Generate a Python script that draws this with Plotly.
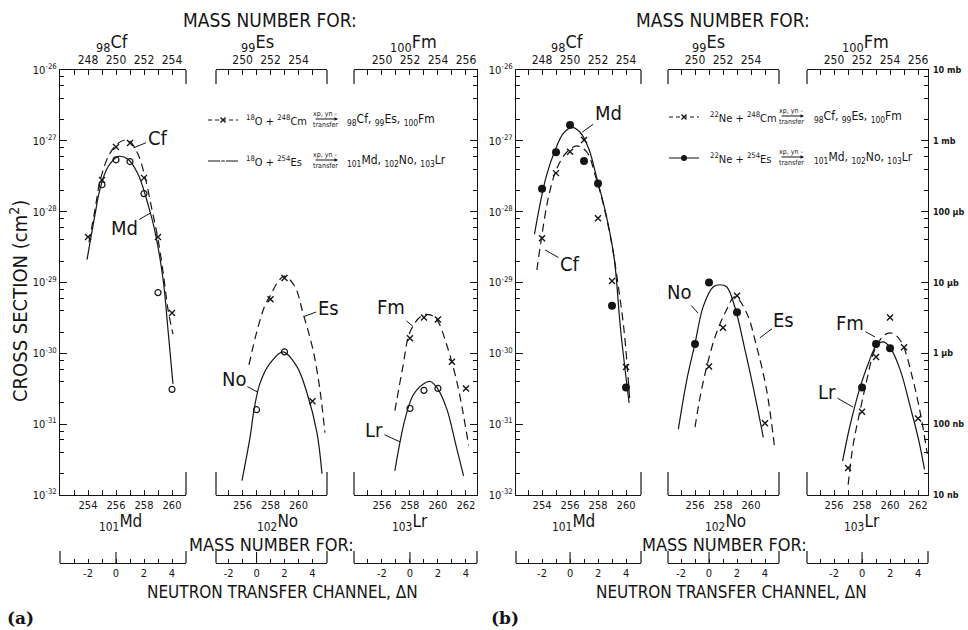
import math
import plotly.graph_objects as go

W, H = 968, 630
SANS = "DejaVu Sans Condensed, Liberation Sans Narrow, DejaVu Sans, sans-serif"
SERIF = "DejaVu Serif, Liberation Serif, serif"
INK = "#151515"

# ---------------- data: neutron transfer channel dN, cross section (cm^2) ----------------
# Panel (a): 18O + 248Cm -> Cf, Es, Fm (x) ; 18O + 254Es -> Md, No, Lr (o)
a_cf_dn = [-2, -1, 0, 1, 2, 3, 4]
a_cf_sig = [4.4e-29, 2.8e-28, 8.2e-28, 9.3e-28, 3.0e-28, 4.4e-29, 3.7e-30]
a_cf_fit_dn = [-1.93, -1.5, -1.14, -0.57, 0.0, 0.57, 1.0, 1.57, 2.07, 2.57, 3.0, 3.43, 3.71, 4.07]
a_cf_fit_sig = [3.7e-29, 1.07e-28, 2.7e-28, 5.9e-28, 8.7e-28, 1.02e-27, 9.8e-28, 6.5e-28,
                3.1e-28, 1.07e-28, 4.1e-29, 1.12e-29, 4.2e-30, 1.86e-30]
a_md_dn = [-1, 0, 1, 2, 3, 4]
a_md_sig = [2.4e-28, 5.4e-28, 5.1e-28, 1.8e-28, 7.2e-30, 3.1e-31]
a_md_fit_dn = [-2.07, -1.5, -1.14, -0.57, 0.14, 0.86, 1.57, 2.29, 2.79, 3.36, 3.71, 4.07]
a_md_fit_sig = [2.1e-29, 9.1e-29, 2.1e-28, 4.3e-28, 6.0e-28, 5.5e-28, 3.4e-28, 1.26e-28,
                5.2e-29, 1.12e-29, 2.2e-30, 3.7e-31]
a_es_dn = [1, 2, 4]
a_es_sig = [5.8e-30, 1.16e-29, 2.1e-31]
a_es_fit_dn = [-0.54, 0.04, 0.61, 1.0, 1.5, 2.0, 2.75, 3.32, 4.04, 4.54, 4.89]
a_es_fit_sig = [6.9e-31, 2.1e-30, 4.8e-30, 6.6e-30, 1.0e-29, 1.23e-29, 8.7e-30, 3.7e-30,
                1.12e-30, 3.0e-31, 7.6e-32]
a_no_dn = [0, 2]
a_no_sig = [1.6e-31, 1.05e-30]
a_no_fit_dn = [-1.04, -0.46, -0.18, 0.25, 0.96, 1.89, 2.89, 3.61, 4.32, 4.68]
a_no_fit_sig = [1.6e-32, 6.6e-32, 1.6e-31, 3.8e-31, 7.2e-31, 1.05e-30, 6.5e-31, 2.75e-31,
                7.6e-32, 2.0e-32]
a_fm_dn = [0, 1, 2, 3, 4]
a_fm_sig = [1.63e-30, 3.2e-30, 3.0e-30, 7.6e-31, 3.2e-31]
a_fm_fit_dn = [-1.08, -0.5, 0.0, 0.84, 1.44, 1.92, 2.64, 3.36, 3.83, 4.19]
a_fm_fit_sig = [1.55e-31, 6.6e-31, 2.0e-30, 3.4e-30, 3.5e-30, 3.0e-30, 1.29e-30, 3.9e-31,
                1.32e-31, 5.0e-32]
a_lr_dn = [0, 1, 2]
a_lr_sig = [1.67e-31, 3.0e-31, 3.2e-31]
a_lr_fit_dn = [-1.08, -0.72, -0.36, 0.24, 0.96, 1.44, 1.92, 2.64, 3.24, 3.83]
a_lr_fit_sig = [2.2e-32, 5.5e-32, 1.17e-31, 2.6e-31, 3.7e-31, 4.0e-31, 3.3e-31, 1.62e-31,
                5.5e-32, 1.86e-32]

# Panel (b): 22Ne + 248Cm -> Cf, Es, Fm (x) ; 22Ne + 254Es -> Md, No, Lr (filled)
b_cf_dn = [-2, -1, 0, 1, 2, 3, 4]
b_cf_sig = [4.2e-29, 3.5e-28, 7.0e-28, 1.03e-27, 8.1e-29, 1.05e-29, 6.4e-31]
b_cf_fit_dn = [-2.37, -2.05, -1.57, -0.96, -0.24, 0.49, 1.21, 1.81, 2.41, 3.02, 3.38, 3.86, 4.28]
b_cf_fit_sig = [1.5e-29, 4.1e-29, 1.5e-28, 4.0e-28, 6.9e-28, 8.5e-28, 6.9e-28, 3.2e-28,
                1.2e-28, 3.2e-29, 1.1e-29, 2.1e-30, 2.0e-31]
b_md_dn = [-2, -1, 0, 1, 2, 3, 4]
b_md_sig = [2.1e-28, 6.9e-28, 1.67e-27, 5.2e-28, 2.5e-28, 4.7e-30, 3.3e-31]
b_md_fit_dn = [-2.54, -2.17, -1.69, -1.09, -0.49, 0.12, 0.72, 1.33, 1.93, 2.54, 3.14, 3.62, 4.22]
b_md_fit_sig = [4.8e-29, 1.2e-28, 3.2e-28, 7.2e-28, 1.26e-27, 1.55e-27, 1.32e-27, 7.8e-28,
                2.9e-28, 9.8e-29, 2.3e-29, 2.1e-30, 2.0e-31]
b_es_dn = [0, 1, 2, 4]
b_es_sig = [6.5e-31, 2.3e-30, 6.5e-30, 1.03e-31]
b_es_fit_dn = [-1.0, -0.64, -0.16, 0.43, 1.14, 1.86, 2.69, 3.41, 4.12, 4.71]
b_es_fit_sig = [9.1e-32, 2.4e-31, 6.5e-31, 1.7e-30, 3.7e-30, 6.3e-30, 3.7e-30, 1.23e-30,
                3.0e-31, 4.3e-32]
b_no_dn = [-1, 0, 2]
b_no_sig = [1.35e-30, 1.0e-29, 3.8e-30]
b_no_fit_dn = [-2.19, -1.59, -1.0, -0.41, 0.31, 0.79, 1.26, 1.86, 2.57, 3.16, 3.88]
b_no_fit_sig = [8.5e-32, 4.2e-31, 1.38e-30, 4.6e-30, 8.7e-30, 9.3e-30, 8.7e-30, 4.4e-30,
                1.12e-30, 3.3e-31, 6.5e-32]
b_fm_dn = [-1, 0, 1, 2, 3, 4]
b_fm_sig = [2.4e-32, 1.5e-31, 8.9e-31, 3.2e-30, 1.22e-30, 1.2e-31]
b_fm_fit_dn = [-0.99, -0.63, -0.14, 0.34, 0.81, 1.29, 1.78, 2.25, 2.86, 3.58, 4.17, 4.66]
b_fm_fit_sig = [1.4e-32, 5.2e-32, 1.55e-31, 4.2e-31, 1.0e-30, 1.55e-30, 1.9e-30, 1.9e-30,
                1.38e-30, 4.7e-31, 1.4e-31, 3.8e-32]
b_lr_dn = [0, 1, 2]
b_lr_sig = [3.3e-31, 1.35e-30, 1.18e-30]
b_lr_fit_dn = [-1.39, -0.86, -0.14, 0.45, 1.06, 1.53, 2.01, 2.73, 3.45, 4.05, 4.46]
b_lr_fit_sig = [3.0e-32, 9.5e-32, 3.3e-31, 7.2e-31, 1.32e-30, 1.45e-30, 1.2e-30, 5.8e-31,
                1.74e-31, 5.9e-32, 2.3e-32]

# ---------------- tick labels ----------------
dn_ticks = [-2, 0, 2, 4]
md_ticks = [254, 256, 258, 260]
no_ticks = [256, 258, 260]
lr_ticks = [256, 258, 260, 262]
cf_ticks = [248, 250, 252, 254]
es_ticks = [250, 252, 254]
fm_ticks = [250, 252, 254, 256]
y_decades = [1e-32, 1e-31, 1e-30, 1e-29, 1e-28, 1e-27, 1e-26]
y_left_text = ["10<sup>-32</sup>", "10<sup>-31</sup>", "10<sup>-30</sup>", "10<sup>-29</sup>",
               "10<sup>-28</sup>", "10<sup>-27</sup>", "10<sup>-26</sup>"]
y_right_text = ["10 nb", "100 nb", "1 µb", "10 µb", "100 µb", "1 mb", "10 mb"]

# ---------------- layout geometry (pixels) ----------------
SUBPLOTS = [
    dict(px=(60, 186), rng=(-4.0, 5.0), bot=256, top=250, bt=md_ticks, tt=cf_ticks, col=0),
    dict(px=(216, 327), rng=(-2.9, 5.04), bot=257, top=251, bt=no_ticks, tt=es_ticks, col=1),
    dict(px=(354, 477), rng=(-4.0, 4.79), bot=258, top=252, bt=lr_ticks, tt=fm_ticks, col=2),
    dict(px=(516, 641), rng=(-3.86, 5.07), bot=256, top=250, bt=md_ticks, tt=cf_ticks, col=0),
    dict(px=(668, 779), rng=(-2.93, 5.0), bot=257, top=251, bt=no_ticks, tt=es_ticks, col=1),
    dict(px=(807, 928), rng=(-3.93, 4.71), bot=258, top=252, bt=lr_ticks, tt=fm_ticks, col=2),
]
Y_TOP, Y_BOT, DN_Y = 70, 495, 563
Y_DOM = [1 - Y_BOT / H, 1 - Y_TOP / H]


def xname(n):
    return "xaxis" if n == 1 else f"xaxis{n}"


def yname(n):
    return "yaxis" if n == 1 else f"yaxis{n}"


def xref(n):
    return "x" if n == 1 else f"x{n}"


def yref(n):
    return "y" if n == 1 else f"y{n}"


fig = go.Figure()
layout = dict(width=W, height=H, margin=dict(l=0, r=0, t=0, b=0, pad=0, autoexpand=False),
              autosize=False, paper_bgcolor="white", plot_bgcolor="rgba(0,0,0,0)",
              font=dict(family=SANS, color=INK), showlegend=True)
shapes = []
ann = []
LW = 1.2

minor_y = [k * 10.0 ** e for e in range(-32, -26) for k in (2, 4, 6, 8)]

for i, sp in enumerate(SUBPLOTS):
    nx, ny = 3 * i + 1, i + 1
    d0, d1 = sp["px"][0] / W, sp["px"][1] / W
    r0, r1 = sp["rng"]
    ints = list(range(math.ceil(r0), math.floor(r1) + 1))
    tick_common = dict(showline=True, linecolor=INK, linewidth=LW, ticks="inside",
                       tickcolor=INK, tickwidth=1.1, showgrid=False, zeroline=False,
                       automargin=False)
    # neutron transfer channel axis (free, below)
    layout[xname(nx)] = dict(domain=[d0, d1], range=[r0, r1], anchor="free",
                             position=1 - DN_Y / H, ticklen=4, tickvals=dn_ticks,
                             ticktext=[str(v) for v in dn_ticks], ticklabelstandoff=0,
                             tickfont=dict(size=11, family=SANS, color=INK),
                             minor=dict(tickvals=[k for k in ints if k not in dn_ticks],
                                        ticks="inside", ticklen=4, tickcolor=INK, tickwidth=1.1),
                             **tick_common)
    # bottom / top mass number axes
    ob, ot = sp["bot"], sp["top"]
    bints = list(range(math.ceil(r0 + ob), math.floor(r1 + ob) + 1))
    layout[xname(nx + 1)] = dict(overlaying=xref(nx), anchor=yref(ny), side="bottom",
                                 range=[r0 + ob, r1 + ob], ticklen=5, tickvals=sp["bt"],
                                 ticktext=[str(v) for v in sp["bt"]], ticklabelstandoff=0,
                                 tickfont=dict(size=11, family=SANS, color=INK),
                                 minor=dict(tickvals=[k for k in bints if k not in sp["bt"]],
                                            ticks="inside", ticklen=5, tickcolor=INK, tickwidth=1.1),
                                 **tick_common)
    tints = list(range(math.ceil(r0 + ot), math.floor(r1 + ot) + 1))
    layout[xname(nx + 2)] = dict(overlaying=xref(nx), anchor=yref(ny), side="top",
                                 range=[r0 + ot, r1 + ot], ticklen=5, tickvals=sp["tt"],
                                 ticktext=[str(v) for v in sp["tt"]], ticklabelstandoff=0,
                                 tickfont=dict(size=12, family=SANS, color=INK),
                                 minor=dict(tickvals=[k for k in tints if k not in sp["tt"]],
                                            ticks="inside", ticklen=5, tickcolor=INK, tickwidth=1.1),
                                 **tick_common)
    ycfg = dict(domain=Y_DOM, type="log", range=[-32, -26], anchor=xref(nx),
                showgrid=False, zeroline=False, automargin=False)
    if sp["col"] == 0:
        ycfg.update(side="left", showline=True, linecolor=INK, linewidth=LW, ticks="inside",
                    ticklen=7, tickcolor=INK, tickwidth=1.1, tickvals=y_decades,
                    ticktext=y_left_text, tickfont=dict(size=11, family=SANS, color=INK),
                    minor=dict(tickvals=minor_y, ticks="inside", ticklen=4, tickcolor=INK, tickwidth=1.1))
    elif sp["col"] == 2:
        ycfg.update(side="right", showline=True, linecolor=INK, linewidth=LW, ticks="inside",
                    ticklen=7, tickcolor=INK, tickwidth=1.1, tickvals=y_decades,
                    ticktext=y_right_text, showticklabels=(i >= 3), ticklabelstandoff=2,
                    tickfont=dict(size=9, family="DejaVu Sans Condensed, DejaVu Sans, sans-serif",
                                  color=INK, weight="bold"),
                    minor=dict(tickvals=minor_y, ticks="inside", ticklen=4, tickcolor=INK, tickwidth=1.1))
    else:
        ycfg.update(showline=False, ticks="", showticklabels=False)
    layout[yname(ny)] = ycfg

    # empty traces so that the overlay mass-number axes get drawn
    for k in (1, 2):
        fig.add_trace(go.Scatter(x=[], y=[], xaxis=xref(nx + k), yaxis=yref(ny),
                                 showlegend=False, hoverinfo="skip"))

    # bracket caps of the frame
    sides = {0: [1], 1: [0, 1], 2: [0]}[sp["col"]]
    for s in sides:
        shapes.append(dict(type="line", xref=f"{xref(nx)} domain", yref=f"{yref(ny)} domain",
                           x0=s, x1=s, y0=1, y1=1 - 14 / (Y_BOT - Y_TOP),
                           line=dict(color=INK, width=LW)))
        shapes.append(dict(type="line", xref=f"{xref(nx)} domain", yref=f"{yref(ny)} domain",
                           x0=s, x1=s, y0=0, y1=23 / (Y_BOT - Y_TOP),
                           line=dict(color=INK, width=LW)))
    # end caps and zero mark of the dN axis
    for s in (0, 1):
        shapes.append(dict(type="line", xref=f"{xref(nx)} domain", yref="paper",
                           x0=s, x1=s, y0=1 - DN_Y / H, y1=1 - (DN_Y - 12) / H,
                           line=dict(color=INK, width=LW)))
    shapes.append(dict(type="line", xref=xref(nx), yref="paper", x0=0, x1=0,
                       y0=1 - DN_Y / H, y1=1 - (DN_Y - 11) / H, line=dict(color=INK, width=1.1)))

DASH = "8px,5px"


def add_pair(i, dn, sig, fit_dn, fit_sig, kind):
    nx, ny = 3 * i + 1, i + 1
    if kind == "x":
        line = dict(color=INK, width=1.2, dash=DASH)
        marker = dict(symbol="x-thin", size=6, line=dict(width=1.4, color=INK), color=INK)
    elif kind == "o":
        line = dict(color=INK, width=1.2)
        marker = dict(symbol="circle-open", size=6, line=dict(width=1.2, color=INK), color=INK)
    else:
        line = dict(color=INK, width=1.2)
        marker = dict(symbol="circle", size=8, color=INK, line=dict(width=0))
    fig.add_trace(go.Scatter(x=fit_dn, y=fit_sig, mode="lines", line=dict(shape="spline", **line),
                             xaxis=xref(nx), yaxis=yref(ny), showlegend=False, hoverinfo="skip"))
    fig.add_trace(go.Scatter(x=dn, y=sig, mode="markers", marker=marker,
                             xaxis=xref(nx), yaxis=yref(ny), showlegend=False))


add_pair(0, a_cf_dn, a_cf_sig, a_cf_fit_dn, a_cf_fit_sig, "x")
add_pair(0, a_md_dn, a_md_sig, a_md_fit_dn, a_md_fit_sig, "o")
add_pair(1, a_es_dn, a_es_sig, a_es_fit_dn, a_es_fit_sig, "x")
add_pair(1, a_no_dn, a_no_sig, a_no_fit_dn, a_no_fit_sig, "o")
add_pair(2, a_fm_dn, a_fm_sig, a_fm_fit_dn, a_fm_fit_sig, "x")
add_pair(2, a_lr_dn, a_lr_sig, a_lr_fit_dn, a_lr_fit_sig, "o")
add_pair(3, b_cf_dn, b_cf_sig, b_cf_fit_dn, b_cf_fit_sig, "x")
add_pair(3, b_md_dn, b_md_sig, b_md_fit_dn, b_md_fit_sig, "f")
add_pair(4, b_es_dn, b_es_sig, b_es_fit_dn, b_es_fit_sig, "x")
add_pair(4, b_no_dn, b_no_sig, b_no_fit_dn, b_no_fit_sig, "f")
add_pair(5, b_fm_dn, b_fm_sig, b_fm_fit_dn, b_fm_fit_sig, "x")
add_pair(5, b_lr_dn, b_lr_sig, b_lr_fit_dn, b_lr_fit_sig, "f")

# ---------------- legends (symbol samples) ----------------
LEGS = [("legend", "x", 203, 120), ("legend2", "o", 203, 161),
        ("legend3", "x", 664, 117), ("legend4", "f", 664, 158)]
for lid, kind, lx, ly in LEGS:
    if kind == "x":
        line = dict(color=INK, width=1.2, dash="4px,3px")
        marker = dict(symbol="x-thin", size=5, line=dict(width=1.3, color=INK))
    elif kind == "o":
        line = dict(color=INK, width=1.2)
        marker = dict(symbol="circle-open", size=5, line=dict(width=1.2, color=INK), color="white")
    else:
        line = dict(color=INK, width=1.2)
        marker = dict(symbol="circle", size=6, color=INK)
    fig.add_trace(go.Scatter(x=[None], y=[None], mode="lines+markers", line=line, marker=marker,
                             name=" ", legend=lid, showlegend=True, hoverinfo="skip"))
    layout[lid] = dict(x=lx / W, y=1 - ly / H, xanchor="left", yanchor="middle",
                       bgcolor="rgba(0,0,0,0)", borderwidth=0, font=dict(size=8),
                       itemwidth=30, itemclick=False, itemdoubleclick=False)


def txt(x, y, s, size, xanchor="center", yanchor="middle", family=SANS, **kw):
    d = dict(x=x / W, y=1 - y / H, xref="paper", yref="paper", text=s, showarrow=False,
             font=dict(size=size, family=family, color=INK), xanchor=xanchor, yanchor=yanchor)
    d.update(kw)
    ann.append(d)


# headings
for cx in (270, 723):
    txt(cx, 20, "MASS NUMBER FOR:", 19)
    txt(cx + 1, 544, "MASS NUMBER FOR:", 18)
txt(282, 592, "NEUTRON TRANSFER CHANNEL, ΔN", 17)
txt(731, 592, "NEUTRON TRANSFER CHANNEL, ΔN", 17)
txt(20, 618, "<b>(a)</b>", 17, family=SERIF)
txt(505, 618, "<b>(b)</b>", 17, family=SERIF)
txt(19, 301, "CROSS SECTION (cm<sup>2</sup>)", 20, textangle=-90)

# nuclide labels
for cx, s in [(112, "<sub>98</sub>Cf"), (257, "<sub>99</sub>Es"), (413, "<sub>100</sub>Fm"),
              (567, "<sub>98</sub>Cf"), (708, "<sub>99</sub>Es"), (865, "<sub>100</sub>Fm")]:
    txt(cx, 43, s, 18)
for cx, s in [(120, "<sub>101</sub>Md"), (277, "<sub>102</sub>No"), (410, "<sub>103</sub>Lr"),
              (573, "<sub>101</sub>Md"), (725, "<sub>102</sub>No"), (862, "<sub>103</sub>Lr")]:
    txt(cx, 522, s, 17)

# reaction legend texts
for x0, proj, rows in [(244, "<sup>18</sup>O", (120, 161)), (708, "<sup>22</sup>Ne", (117, 158))]:
    txt(x0, rows[0], proj + " + <sup>248</sup>Cm", 11, xanchor="left")
    txt(x0, rows[1], proj + " + <sup>254</sup>Es", 11, xanchor="left")
for ax0, px0, rows in [(314, 345, (120, 161)), (780, 812, (117, 158))]:
    for ry in rows:
        ann.append(dict(x=(ax0 + 24) / W, y=1 - (ry - 1) / H, xref="paper", yref="paper",
                        ax=-24, ay=0, text="", showarrow=True, arrowhead=2, arrowsize=0.7,
                        arrowwidth=1, arrowcolor=INK, standoff=0, startstandoff=0))
        txt(ax0 + 11, ry - 6, "xp, yn -", 7)
        txt(ax0 + 11, ry + 5, "transfer", 7)
    txt(px0, rows[0], "<sub>98</sub>Cf, <sub>99</sub>Es, <sub>100</sub>Fm", 12, xanchor="left")
    txt(px0, rows[1], "<sub>101</sub>Md, <sub>102</sub>No, <sub>103</sub>Lr", 12, xanchor="left")


def callout(i, s, dn, logsig, ax, ay):
    ann.append(dict(x=dn, y=logsig, xref=xref(3 * i + 1), yref=yref(i + 1), text=s,
                    showarrow=True, arrowhead=0, arrowwidth=1, arrowcolor=INK, ax=ax, ay=ay,
                    standoff=0, font=dict(size=20, family=SANS, color=INK)))


callout(0, "Cf", 1.25, -27.10, 24, -10)
callout(0, "Md", 2.45, -28.02, -26, 15)
callout(1, "Es", 3.4, -29.48, 24, -9)
callout(1, "No", 0.1, -30.55, -24, -13)
callout(2, "Fm", 0.21, -29.62, -22, -19)
callout(2, "Lr", -0.71, -31.25, -26, -12)
callout(3, "Md", 0.86, -26.88, 26, -19)
callout(3, "Cf", -1.79, -28.54, 25, 14)
callout(4, "No", -0.79, -29.43, -19, -21)
callout(4, "Es", 3.64, -29.78, 24, -18)
callout(5, "Fm", 0.93, -29.77, -25, -14)
callout(5, "Lr", -0.64, -30.76, -26, -15)

layout["shapes"] = shapes
layout["annotations"] = ann
fig.update_layout(**layout)
fig.write_html("out.html", config={"displayModeBar": False},
               post_script="document.body.style.margin='0';document.body.style.overflow='hidden';")
